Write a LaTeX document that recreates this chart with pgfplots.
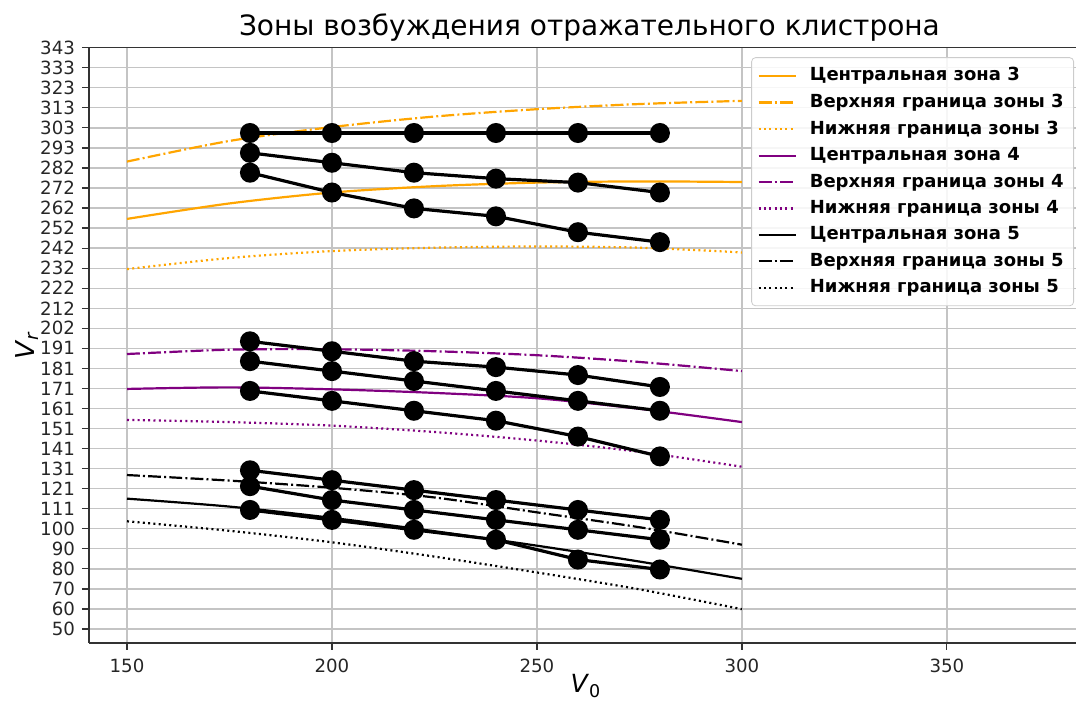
\documentclass[border=0pt]{standalone}
\usepackage{pgfplots}
\pgfplotsset{compat=1.18}
\usepackage{fontspec}
\setmainfont{DejaVu Sans}
\definecolor{mplorange}{HTML}{FFA500}
\definecolor{mplpurple}{HTML}{800080}
\definecolor{gridgray}{HTML}{C4C4C4}
\tikzset{
  mdashdot/.style={dash pattern=on 6.4pt off 1.6pt on 1pt off 1.6pt},
  mdotted/.style={dash pattern=on 1pt off 1.65pt},
}
\begin{document}
\begin{tikzpicture}
\begin{axis}[
  name=ax,
  scale only axis,
  width=493.5pt, height=297.5pt,
  xmin=140.73, xmax=381.5,
  ymin=43.1, ymax=343,
  separate axis lines,
  axis x line*=box,
  axis y line*=left,
  axis line style={line width=0.8pt, black!80},
  tick align=outside,
  tick pos=left,
  major tick length=3.5pt,
  tick style={line width=0.6pt, black!80},
  xtick={150,200,250,300,350},
  ytick={50,60.1034,70.2069,80.3103,90.4138,100.5172,110.6207,120.7241,130.8276,140.9310,151.0345,161.1379,171.2414,181.3448,191.4483,201.5517,211.6552,221.7586,231.8621,241.9655,252.0690,262.1724,272.2759,282.3793,292.4828,302.5862,312.6897,322.7931,332.8966,343},
  yticklabels={50,60,70,80,90,100,111,121,131,141,151,161,171,181,191,202,212,222,232,242,252,262,272,282,293,303,313,323,333,343},
  /pgf/number format/assume math mode=true,
  ticklabel style={font=\fontsize{9.1}{10}\selectfont, text=black!85},
  xticklabel style={yshift=-1pt},
  grid=major,
  major grid style={gridgray, line width=0.65pt},
  title={Зоны возбуждения отражательного клистрона},
  title style={font=\fontsize{14}{16}\selectfont, at={(rel axis cs:0.507,1)}, anchor=south, yshift=-6.5pt},
  xlabel={\textit{V}\textsubscript{0}},
  ylabel={\textit{V}\textsubscript{\textit{r}}},
  every axis x label/.style={at={(rel axis cs:0.5035,0)}, anchor=center, yshift=-21.8pt, font=\fontsize{12.5}{14}\selectfont},
  every axis y label/.style={at={(rel axis cs:0,0.5)}, anchor=center, rotate=90, yshift=31pt, font=\fontsize{13}{14}\selectfont},
  legend cell align=left,
  legend style={at={(rel axis cs:0.998,0.984)}, anchor=north east,
    font=\fontsize{9}{10}\selectfont\bfseries,
    draw=black!20, rounded corners=2pt, fill=white, fill opacity=0.85, text opacity=1,
    row sep=1.15pt, inner xsep=3pt, inner ysep=3pt,
    /tikz/every odd column/.append style={column sep=4.5pt}},
  legend image code/.code={\draw[#1] (0pt,0pt) -- (18.5pt,0pt);},
]
% Theoretical zones
\addplot[mplorange, line width=1.1pt, smooth] coordinates {(150,256.7)(175,264.5)(200,270)(225,273.2)(250,275)(275,275.6)(300,275.3)};
\addlegendentry{Центральная зона 3}
\addplot[mplorange, line width=1.1pt, smooth, mdashdot] coordinates {(150,285.6)(175,296)(200,303)(225,308.3)(250,312)(275,314.6)(300,316.2)};
\addlegendentry{Верхняя граница зоны 3}
\addplot[mplorange, line width=1.1pt, smooth, mdotted] coordinates {(150,231.4)(175,237)(200,240.5)(225,242.2)(250,242.8)(275,242.2)(300,239.8)};
\addlegendentry{Нижняя граница зоны 3}
\addplot[mplpurple, line width=1.1pt, smooth] coordinates {(150,171)(175,171.8)(200,170.8)(225,169)(250,166.3)(275,161)(300,154.3)};
\addlegendentry{Центральная зона 4}
\addplot[mplpurple, line width=1.1pt, smooth, mdashdot] coordinates {(150,188.6)(175,190.8)(200,191)(225,190)(250,188)(275,184.6)(300,180)};
\addlegendentry{Верхняя граница зоны 4}
\addplot[mplpurple, line width=1.1pt, smooth, mdotted] coordinates {(150,155.4)(175,154.3)(200,152.5)(225,149.3)(250,145)(275,139.3)(300,131.8)};
\addlegendentry{Нижняя граница зоны 4}
\addplot[black, line width=1.1pt, smooth] coordinates {(150,115.7)(175,111.7)(200,106)(225,99.3)(250,92)(275,84)(300,75.3)};
\addlegendentry{Центральная зона 5}
\addplot[black, line width=1.1pt, smooth, mdashdot] coordinates {(150,127.6)(175,124.8)(200,121.2)(225,116.3)(250,108.8)(275,101.3)(300,92.5)};
\addlegendentry{Верхняя граница зоны 5}
\addplot[black, line width=1.1pt, smooth, mdotted] coordinates {(150,104.3)(175,99.5)(200,93.7)(225,86.5)(250,78.5)(275,70)(300,60)};
\addlegendentry{Нижняя граница зоны 5}
% Experimental points
\pgfplotsset{every axis plot/.append style={forget plot}}
\addplot[black, line width=1.6pt, mark=*, mark size=4.2pt] coordinates {(180,300)(200,300)(220,300)(240,300)(260,300)(280,300)};
\addplot[black, line width=1.6pt, mark=*, mark size=4.2pt] coordinates {(180,290)(200,285)(220,280)(240,277)(260,275)(280,270)};
\addplot[black, line width=1.6pt, mark=*, mark size=4.2pt] coordinates {(180,280)(200,270)(220,262)(240,258)(260,250)(280,245)};
\addplot[black, line width=1.6pt, mark=*, mark size=4.2pt] coordinates {(180,195)(200,190)(220,185)(240,182)(260,178)(280,172)};
\addplot[black, line width=1.6pt, mark=*, mark size=4.2pt] coordinates {(180,185)(200,180)(220,175)(240,170)(260,165)(280,160)};
\addplot[black, line width=1.6pt, mark=*, mark size=4.2pt] coordinates {(180,170)(200,165)(220,160)(240,155)(260,147)(280,137)};
\addplot[black, line width=1.6pt, mark=*, mark size=4.2pt] coordinates {(180,130)(200,125)(220,120)(240,115)(260,110)(280,105)};
\addplot[black, line width=1.6pt, mark=*, mark size=4.2pt] coordinates {(180,122)(200,115)(220,110)(240,105)(260,100)(280,95)};
\addplot[black, line width=1.6pt, mark=*, mark size=4.2pt] coordinates {(180,110)(200,105)(220,100)(240,95)(260,85)(280,80)};
\end{axis}
\pgfresetboundingbox
\path (ax.south west) ++(-44.5pt,-29.65pt) rectangle ++(538pt,351pt);
\end{tikzpicture}
\end{document}
